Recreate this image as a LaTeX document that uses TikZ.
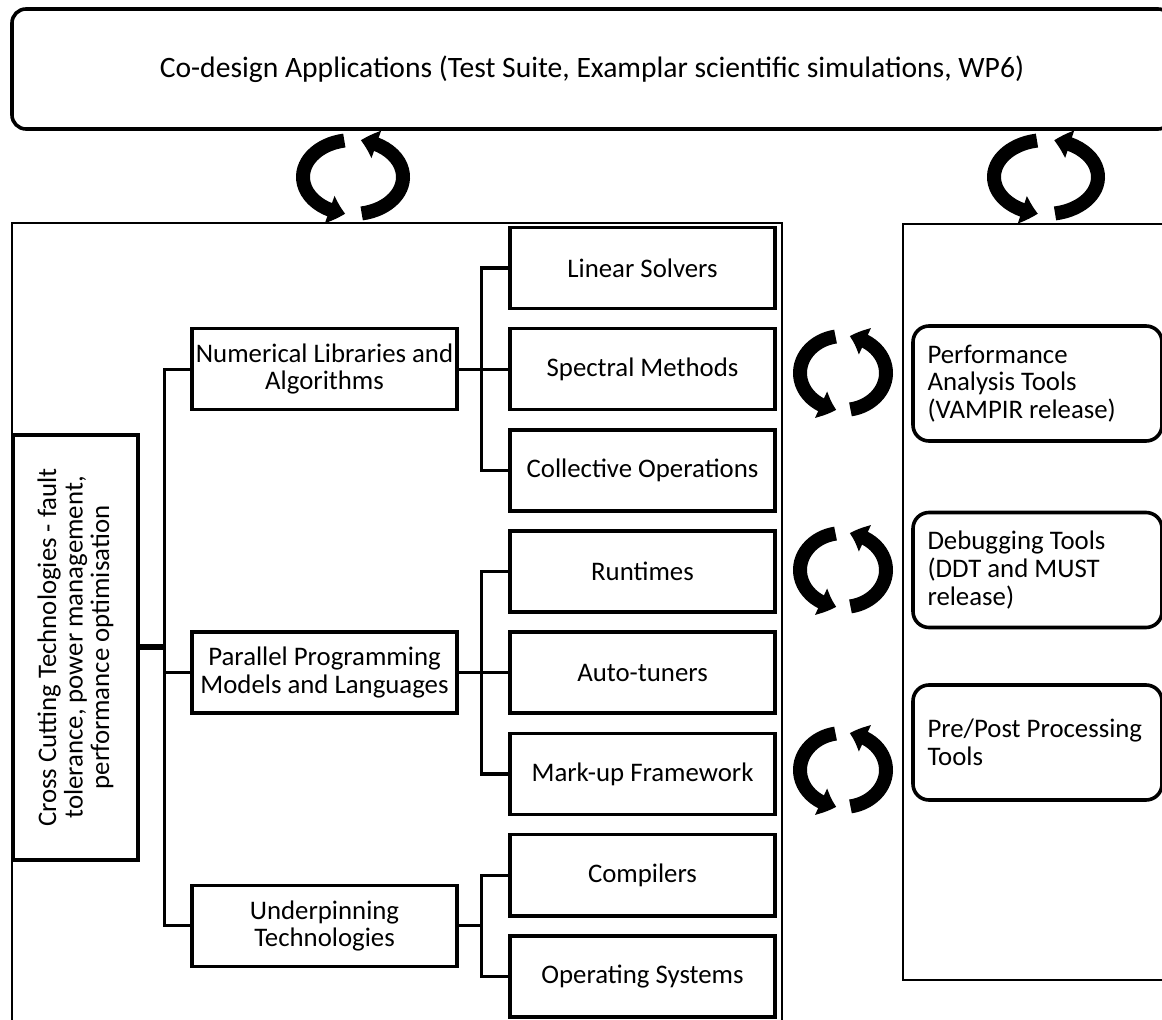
\documentclass[tikz,border=0pt]{standalone}
\usepackage{fontspec}
\setmainfont{Carlito}
\usetikzlibrary{arrows.meta,bending,positioning,calc}

\tikzset{
  box/.style={draw,line width=1.8pt,minimum width=132.5pt,minimum height=40.5pt,align=center,inner sep=1pt},
  tool/.style={draw,line width=1.8pt,rounded corners=8pt,minimum width=124.5pt,minimum height=57.5pt,text width=110pt,align=flush left,inner xsep=7pt},
  frame/.style={draw,line width=1.1pt},
  conn/.style={line width=1.6pt},
  thickconn/.style={line width=3pt},
  cyc/.style={line width=7pt,-{Triangle[bend,width=14pt,length=8pt]}},
  pics/cyclearr/.style={code={
    \draw[cyc] (260:#1 and 37) arc[start angle=260,end angle=99,x radius=#1,y radius=37];
    \draw[cyc] (80:#1 and 37) arc[start angle=80,end angle=-81,x radius=#1,y radius=37];
  }}
}

\begin{document}
\begin{tikzpicture}[x=0.5pt,y=-0.5pt,node distance=8.3pt,font=\fontsize{13.4}{13.8}\selectfont]
  \clip (0,0) rectangle (1162,1020);
  % applications on top
  \node[draw,line width=1.8pt,rounded corners=7pt,minimum width=580pt,minimum height=60pt,font=\fontsize{14.8}{16}\selectfont] (app) at (592,69) {Co-design Applications (Test Suite, Examplar scientific simulations, WP6)};
  % frames
  \draw[frame] (12,1040) |- (782,223) -- (782,1040);
  \draw[frame] (903,224) rectangle (1190,980);
  % building blocks
  \node[box] (lin) at (642.5,268) {Linear Solvers};
  \node[box,below=of lin] (spe) {Spectral Methods};
  \node[box,below=of spe] (col) {Collective Operations};
  \node[box,below=of col] (run) {Runtimes};
  \node[box,below=of run] (aut) {Auto-tuners};
  \node[box,below=of aut] (mar) {Mark-up Framework};
  \node[box,below=of mar] (comp) {Compilers};
  \node[box,below=of comp] (os) {Operating Systems};
  \coordinate (uc) at ($(comp.west)!0.5!(os.west)$);
  \node[box,left=24.7pt of spe] (num) {Numerical Libraries and\\Algorithms};
  \node[box,left=24.7pt of aut] (par) {Parallel Programming\\Models and Languages};
  \node[box,left=24.7pt of uc] (und) {Underpinning\\Technologies};
  \node[box,rotate=90,minimum width=212.5pt,minimum height=62.5pt,font=\fontsize{13.4}{13.3}\selectfont] (cross) at (75.5,647.5) {Cross Cutting Technologies - fault\\tolerance, power management,\\performance optimisation};
  % tools
  \node[tool] (perf) at (1037.5,383.5) {Performance\\Analysis Tools\\(VAMPIR release)};
  \node[tool] (dbg) at (1037.5,570) {Debugging Tools\\(DDT and MUST\\release)};
  \node[tool] (pre) at (1037.5,742.5) {Pre/Post Processing\\Tools};
  % tree
  \draw[conn] (num.west) -- ++(-26,0) coordinate (lb) |- (und.west);
  \draw[conn] (par.west) -- (par.west -| lb);
  \draw[thickconn] (cross.south) -- (cross.south -| lb);
  \draw[conn] (lin.west) -- ++(-27,0) |- (col.west);
  \draw[conn] (num.east) -- (spe.west);
  \draw[conn] (run.west) -- ++(-27,0) |- (mar.west);
  \draw[conn] (par.east) -- (aut.west);
  \draw[conn] (comp.west) -- ++(-27,0) coordinate (ub) |- (os.west);
  \draw[conn] (und.east) -- (und.east -| ub);
  % exchange cycles
  \pic at (353,177) {cyclearr=50};
  \pic at (1046,177) {cyclearr=52};
  \pic at (843,373) {cyclearr=43};
  \pic at (843,570) {cyclearr=43};
  \pic at (843,770) {cyclearr=43};
\end{tikzpicture}
\end{document}
